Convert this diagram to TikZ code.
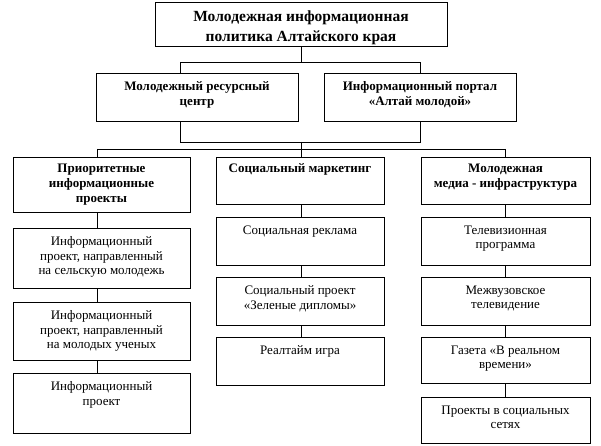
\documentclass[tikz,border=0pt]{standalone}
\usepackage{fontspec}
\setmainfont{Liberation Serif}
\usetikzlibrary{fit}
\tikzset{
  box/.style={draw, line width=0.9pt, inner sep=0pt},
  txt/.style={anchor=north, align=center, inner sep=0pt, font=\fontsize{13}{14.5}\selectfont},
  hdr/.style={txt, font=\fontsize{13}{15}\selectfont\bfseries},
  ttl/.style={txt, font=\fontsize{15.5}{20}\selectfont\bfseries},
  ln/.style={line width=0.9pt}
}
\begin{document}
\begin{tikzpicture}[x=1pt,y=-1pt]
\useasboundingbox (0,0) rectangle (601,446);
% boxes
\node[box, fit={(155,2) (447,46)}] (top) {};
\node[box, fit={(96,73) (298,121)}] (mrc) {};
\node[box, fit={(324,73) (516,121)}] (por) {};
\node[box, fit={(13,157) (190,212)}] (c1h) {};
\node[box, fit={(13,228) (190,288)}] (c1a) {};
\node[box, fit={(13,302) (190,360)}] (c1b) {};
\node[box, fit={(13,373) (190,433)}] (c1c) {};
\node[box, fit={(216,157) (384,204)}] (c2h) {};
\node[box, fit={(216,217) (384,265)}] (c2a) {};
\node[box, fit={(216,277) (384,325)}] (c2b) {};
\node[box, fit={(216,337) (384,385)}] (c2c) {};
\node[box, fit={(421,157) (590,204)}] (c3h) {};
\node[box, fit={(421,217) (590,265)}] (c3a) {};
\node[box, fit={(421,277) (590,325)}] (c3b) {};
\node[box, fit={(421,337) (590,383)}] (c3c) {};
\node[box, fit={(421,397) (590,443)}] (c3d) {};
% texts
\node[ttl] (topt) at ([yshift=-9pt]top.north) {Молодежная информационная\\политика Алтайского края};
\node[hdr] (mrct) at ([yshift=-9pt]mrc.north) {Молодежный ресурсный\\центр};
\node[hdr] (port) at ([yshift=-9pt]por.north) {Информационный портал\\«Алтай молодой»};
\node[hdr] (c1ht) at ([yshift=-7pt]c1h.north) {Приоритетные\\информационные\\проекты};
\node[hdr] (c2ht) at ([yshift=-7pt]c2h.north) {Социальный маркетинг};
\node[hdr] (c3ht) at ([yshift=-7pt]c3h.north) {Молодежная\\медиа - инфраструктура};
\node[txt] (c1at) at ([yshift=-9pt]c1a.north) {Информационный\\проект, направленный\\на сельскую молодежь};
\node[txt] (c1bt) at ([yshift=-9pt]c1b.north) {Информационный\\проект, направленный\\на молодых ученых};
\node[txt] (c1ct) at ([yshift=-9pt]c1c.north) {Информационный\\проект};
\node[txt] (c2at) at ([yshift=-9pt]c2a.north) {Социальная реклама};
\node[txt] (c2bt) at ([yshift=-9pt]c2b.north) {Социальный проект\\«Зеленые дипломы»};
\node[txt] (c2ct) at ([yshift=-9pt]c2c.north) {Реалтайм игра};
\node[txt] (c3at) at ([yshift=-9pt]c3a.north) {Телевизионная\\программа};
\node[txt] (c3bt) at ([yshift=-9pt]c3b.north) {Межвузовское\\телевидение};
\node[txt] (c3ct) at ([yshift=-9pt]c3c.north) {Газета «В реальном\\времени»};
\node[txt] (c3dt) at ([yshift=-9pt]c3d.north) {Проекты в социальных\\сетях};
% connectors
\coordinate (a1) at (180,62);
\coordinate (a2) at (420,62);
\coordinate (b1) at (180,142);
\coordinate (b2) at (420,142);
\coordinate (bm) at (301,142);
\coordinate (k1) at (97,149);
\coordinate (k2) at (301,149);
\coordinate (k3) at (505,149);
\draw[ln] (top.south) -- (top.south |- a1);
\draw[ln] (a1 |- mrc.north) -- (a1) -- (a2) -- (a2 |- por.north);
\draw[ln] (b1 |- mrc.south) -- (b1) -- (b2) -- (b2 |- por.south);
\draw[ln] (bm) -- (k2);
\draw[ln] (k1) -- (k3);
\draw[ln] (k1) -- (k1 |- c1h.north);
\draw[ln] (k2) -- (k2 |- c2h.north);
\draw[ln] (k3) -- (k3 |- c3h.north);
\draw[ln] (k1 |- c1h.south) -- (k1 |- c1a.north);
\draw[ln] (k1 |- c1a.south) -- (k1 |- c1b.north);
\draw[ln] (k1 |- c1b.south) -- (k1 |- c1c.north);
\draw[ln] (k2 |- c2h.south) -- (k2 |- c2a.north);
\draw[ln] (k2 |- c2a.south) -- (k2 |- c2b.north);
\draw[ln] (k2 |- c2b.south) -- (k2 |- c2c.north);
\draw[ln] (k3 |- c3h.south) -- (k3 |- c3a.north);
\draw[ln] (k3 |- c3a.south) -- (k3 |- c3b.north);
\draw[ln] (k3 |- c3b.south) -- (k3 |- c3c.north);
\draw[ln] (k3 |- c3c.south) -- (k3 |- c3d.north);
\end{tikzpicture}
\end{document}
